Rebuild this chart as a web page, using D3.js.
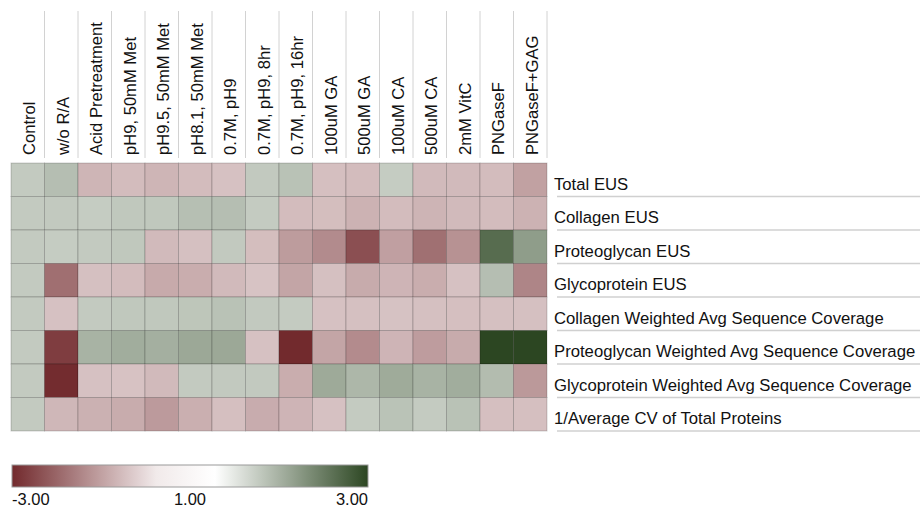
<!DOCTYPE html>
<html>
<head>
<meta charset="utf-8">
<script src="https://cdn.jsdelivr.net/npm/d3@7"></script>
<style>
  body { margin: 0; background: #fff; }
  svg { display: block; font-family: "Liberation Sans", Arial, sans-serif; }
</style>
</head>
<body>
<div id="heatmap"></div>
<script>
// columns (treatments)
var conditions = ["Control", "w/o R/A", "Acid Pretreatment", "pH9, 50mM Met", "pH9.5, 50mM Met",
  "pH8.1, 50mM Met", "0.7M, pH9", "0.7M, pH9, 8hr", "0.7M, pH9, 16hr", "100uM GA", "500uM GA",
  "100uM CA", "500uM CA", "2mM VitC", "PNGaseF", "PNGaseF+GAG"];

// rows (metrics)
var metrics = ["Total EUS", "Collagen EUS", "Proteoglycan EUS", "Glycoprotein EUS",
  "Collagen Weighted Avg Sequence Coverage", "Proteoglycan Weighted Avg Sequence Coverage",
  "Glycoprotein Weighted Avg Sequence Coverage", "1/Average CV of Total Proteins"];

// values, one array per row
var totalEUS      = [1.57, 1.70, -0.39, -0.26, -0.39, -0.26, -0.16, 1.58, 1.66, -0.20, -0.25, 1.55, -0.30, -0.30, -0.25, -0.77];
var collagenEUS   = [1.57, 1.58, 1.55, 1.60, 1.60, 1.69, 1.70, 1.56, -0.26, -0.23, -0.45, -0.26, -0.41, -0.30, -0.26, -0.45];
var proteoEUS     = [1.57, 1.55, 1.57, 1.60, -0.30, -0.18, 1.58, -0.23, -0.86, -1.18, -2.30, -0.80, -1.69, -1.05, 2.59, 2.06];
var glycoEUS      = [1.57, -1.70, -0.18, -0.26, -0.60, -0.54, -0.30, -0.13, -0.69, -0.19, -0.58, -0.40, -0.54, -0.17, 1.70, -1.29];
var collagenSC    = [1.57, -0.17, 1.57, 1.60, 1.60, 1.62, 1.66, 1.58, 1.56, -0.16, -0.18, -0.15, -0.19, -0.20, -0.18, -0.18];
var proteoSC      = [1.57, -2.64, 1.82, 1.89, 1.86, 1.94, 1.94, -0.17, -3.00, -0.69, -1.17, -0.40, -0.85, -0.58, 3.00, 3.00];
var glycoSC       = [1.57, -2.97, -0.17, -0.14, -0.30, 1.57, 1.58, 1.58, -0.54, 1.92, 1.78, 1.91, 1.82, 1.89, 1.72, -0.92];
var avgCV         = [1.57, -0.35, -0.47, -0.56, -0.89, -0.50, -0.20, -0.55, -0.40, -0.16, 1.56, 1.65, 1.56, 1.66, -0.20, -0.20];

var rowsValues = [totalEUS, collagenEUS, proteoEUS, glycoEUS, collagenSC, proteoSC, glycoSC, avgCV];

// legend
var legendDomain = [-3, 1, 3];
var legendTicks = ["-3.00", "1.00", "3.00"];

var W = 920, H = 508;

var svg = d3.select("#heatmap")
  .append("svg")
    .attr("width", W)
    .attr("height", H);

var x = d3.scaleBand()
  .domain(conditions)
  .range([11, 547]);

var y = d3.scaleBand()
  .domain(metrics)
  .range([163, 431]);

var color = d3.scaleLinear()
  .domain(legendDomain)
  .range(["#722a2d", "#ffffff", "#2c4622"])
  .clamp(true);

var cells = [];
rowsValues.forEach(function(vals, r) {
  vals.forEach(function(v, c) {
    cells.push({ metric: metrics[r], cond: conditions[c], value: v });
  });
});

// Cells
svg.selectAll("rect.cell")
  .data(cells)
  .enter()
  .append("rect")
    .attr("class", "cell")
    .attr("x", function(d) { return x(d.cond); })
    .attr("y", function(d) { return y(d.metric); })
    .attr("width", x.bandwidth())
    .attr("height", y.bandwidth())
    .style("fill", function(d) { return color(d.value); })
    .attr("stroke", "rgba(0,0,0,0.18)")
    .attr("stroke-width", 1);

// Column separators in header
svg.selectAll("line.colsep")
  .data(conditions)
  .enter()
  .append("line")
    .attr("x1", function(d) { return x(d) + x.bandwidth(); })
    .attr("x2", function(d) { return x(d) + x.bandwidth(); })
    .attr("y1", 11)
    .attr("y2", 158)
    .attr("stroke", "#d2d2d2")
    .attr("stroke-width", 1);

// Column labels
svg.selectAll("text.collab")
  .data(conditions)
  .enter()
  .append("text")
    .attr("transform", function(d) {
      return "translate(" + (x(d) + x.bandwidth() / 2 + 7.5) + ",155)rotate(-90)";
    })
    .style("font-size", "16.6px")
    .style("fill", "#111")
    .text(function(d) { return d; });

// Row labels + underlines
svg.selectAll("line.rowsep")
  .data(metrics)
  .enter()
  .append("line")
    .attr("x1", 557)
    .attr("x2", W)
    .attr("y1", function(d) { return y(d) + y.bandwidth(); })
    .attr("y2", function(d) { return y(d) + y.bandwidth(); })
    .attr("stroke", "#d0d0d0")
    .attr("stroke-width", 1.5);

svg.selectAll("text.rowlab")
  .data(metrics)
  .enter()
  .append("text")
    .attr("x", 554)
    .attr("y", function(d) { return y(d) + y.bandwidth() - 7; })
    .style("font-size", "16.7px")
    .style("fill", "#111")
    .text(function(d) { return d; });

// Colour legend (white band kept a little wider around 1.00)
var lx = d3.scaleLinear().domain(legendDomain).range([12, 190, 368]);
var legPos = d3.scaleLinear().domain([-3, 1, 1, 3]).range([0, 0.45, 0.57, 1]);

var defs = svg.append("defs");
var grad = defs.append("linearGradient")
  .attr("id", "legendGrad")
  .attr("x1", "0%").attr("x2", "100%").attr("y1", "0%").attr("y2", "0%");

var redSide = d3.range(0, 11).map(function(i) { return -3 + i * 0.4; });
var greenSide = d3.range(0, 11).map(function(i) { return 1 + i * 0.2; });

redSide.forEach(function(v) {
  grad.append("stop")
    .attr("offset", (legPos(v) * 100) + "%")
    .attr("stop-color", color(v));
});
greenSide.forEach(function(v, i) {
  grad.append("stop")
    .attr("offset", ((i === 0 ? 0.57 : 0.57 + (v - 1) / 2 * 0.43) * 100) + "%")
    .attr("stop-color", color(v));
});

svg.append("rect")
  .attr("x", lx(-3))
  .attr("y", 465)
  .attr("width", lx(3) - lx(-3))
  .attr("height", 22)
  .style("fill", "url(#legendGrad)")
  .attr("stroke", "#9a9a9a")
  .attr("stroke-width", 1);

svg.selectAll("text.legtick")
  .data(legendDomain)
  .enter()
  .append("text")
    .attr("x", function(d) { return lx(d); })
    .attr("y", 505)
    .attr("text-anchor", function(d, i) { return i === 0 ? "start" : (i === 2 ? "end" : "middle"); })
    .style("font-size", "16.5px")
    .style("fill", "#111")
    .text(function(d, i) { return legendTicks[i]; });
</script>
</body>
</html>
